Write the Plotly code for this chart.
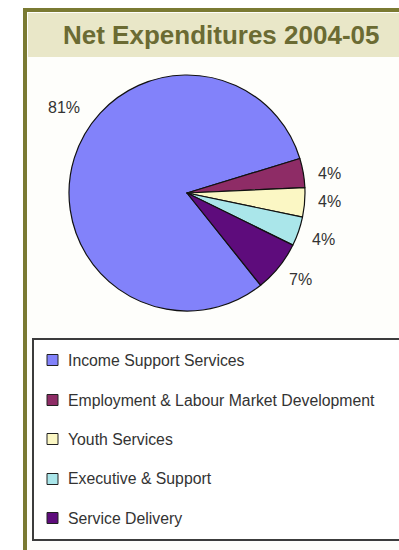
import plotly.graph_objects as go

# Net expenditures by program area, 2004-05 (share of total, %)
categories = [
    "Income Support Services",
    "Employment & Labour Market Development",
    "Youth Services",
    "Executive & Support",
    "Service Delivery",
]
shares = [81, 4, 4, 4, 7]
colors = ["#8282fa", "#8e2c66", "#fbf7c4", "#aae6ea", "#5e0c7c"]
title_text = "Net Expenditures 2004-05"

W, H = 399, 550
FONT = "Arial, Liberation Sans, sans-serif"


def px(x):
    return x / W


def py(y):
    return 1 - y / H


fig = go.Figure()

# pie geometry (pixels): centre and radius
cx, cy, r = 187, 193, 118

fig.add_trace(go.Pie(
    labels=categories,
    values=shares,
    marker=dict(colors=colors, line=dict(color="#111111", width=1.2)),
    sort=False,
    direction="clockwise",
    rotation=141.4,
    textinfo="none",
    hoverinfo="label+percent",
    showlegend=False,
    domain=dict(x=[px(cx - r), px(cx + r)], y=[py(cy + r), py(cy - r)]),
))

shapes = []
annotations = []

# outer olive frame
shapes.append(dict(type="rect", xref="paper", yref="paper",
                   x0=px(25), x1=px(420), y0=py(570), y1=py(10),
                   line=dict(color="#7a7a32", width=4), fillcolor="#fefefb",
                   layer="below"))
# title band
shapes.append(dict(type="rect", xref="paper", yref="paper",
                   x0=px(28), x1=px(400), y0=py(57), y1=py(13),
                   line=dict(width=0), fillcolor="#e9e7c8", layer="below"))
annotations.append(dict(xref="paper", yref="paper", x=px(221), y=py(35),
                        text="<b>" + title_text + "</b>", showarrow=False,
                        font=dict(family=FONT, size=26, color="#6b6b33"),
                        xanchor="center", yanchor="middle"))

# percentage labels around the pie
label_pos = [(64, 108), (329, 173), (329, 201), (323, 239), (300, 280)]
for v, (lx, ly) in zip(shares, label_pos):
    annotations.append(dict(xref="paper", yref="paper", x=px(lx), y=py(ly),
                            text=f"{v}%", showarrow=False,
                            font=dict(family=FONT, size=16, color="#333333"),
                            xanchor="center", yanchor="middle"))

# legend box
shapes.append(dict(type="rect", xref="paper", yref="paper",
                   x0=px(33), x1=px(410), y0=py(540), y1=py(339),
                   line=dict(color="#3c3c3c", width=2), fillcolor="#ffffff",
                   layer="below"))
item_y = [360, 400, 439, 479, 518]
for name, col, iy in zip(categories, colors, item_y):
    shapes.append(dict(type="rect", xref="paper", yref="paper",
                       x0=px(47), x1=px(58), y0=py(iy + 5.5), y1=py(iy - 5.5),
                       line=dict(color="#222222", width=1), fillcolor=col))
    annotations.append(dict(xref="paper", yref="paper", x=px(66), y=py(iy),
                            text=name, showarrow=False,
                            font=dict(family=FONT, size=15.8, color="#333333"),
                            xanchor="left", yanchor="middle"))

fig.update_layout(
    width=W, height=H,
    margin=dict(l=0, r=0, t=0, b=0),
    paper_bgcolor="#ffffff",
    plot_bgcolor="#ffffff",
    shapes=shapes,
    annotations=annotations,
    showlegend=False,
)

fig.write_html("out.html", config={"displayModeBar": False})
